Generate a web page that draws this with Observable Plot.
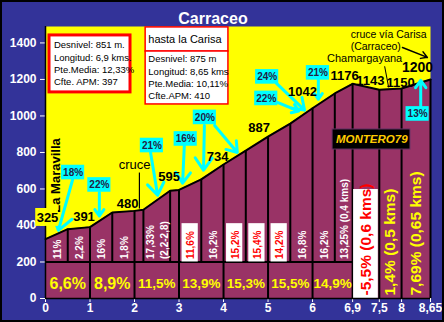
<!DOCTYPE html>
<html><head><meta charset="utf-8">
<script src="https://cdn.jsdelivr.net/npm/d3@7"></script>
<script src="https://cdn.jsdelivr.net/npm/@observablehq/plot@0.6"></script>
<style>body{margin:0;background:#333399;overflow:hidden}</style>
</head><body><div id="chart"></div>
<script>
// ---- data ----
const kmTicks = [0, 1, 2, 3, 4, 5, 6, 6.9, 7.5, 8, 8.65];
const kmTickLabels = ["0", "1", "2", "3", "4", "5", "6", "6,9", "7,5", "8", "8,65"];
const elevTicks = [0, 200, 400, 600, 800, 1000, 1200, 1400];

const profileKm   = [0, 0.5, 1, 1.5, 2, 2.2, 2.8, 3, 3.5, 4, 4.5, 5, 5.5, 6, 6.5, 6.9, 7.5, 8, 8.65];
const profileElev = [325, 380, 391, 471, 480, 486, 590, 595, 653, 734, 810, 887, 958, 1042, 1123, 1176, 1143, 1150, 1200];
const kmBoundaries = [0, 1, 2, 3, 4, 5, 6, 6.9, 7.5, 8, 8.65];

const subStart = [0, 0.5, 1, 1.5, 2.2, 3, 3.5, 4, 4.5, 5, 5.5, 6, 6.5];
const subEnd   = [0.5, 1, 1.5, 2, 2.8, 3.5, 4, 4.5, 5, 5.5, 6, 6.5, 6.9];
const subLabel = ["11%", "2,2%", "16%", "1,8%", "17,33%\n(2,2-2,8)", "11,6%", "16,2%", "15,2%", "15,4%", "14,2%", "16,8%", "16,2%", "13,25% (0,4 kms)"];
const subRed   = [false, false, false, false, false, true, false, true, true, true, false, false, false];

const avgStart = [0, 1, 2, 3, 4, 5, 6];
const avgEnd   = [1, 2, 3, 4, 5, 6, 6.9];
const avgLabel = ["6,6%", "8,9%", "11,5%", "13,9%", "15,3%", "15,5%", "14,9%"];

const longStart = [6.9, 7.5, 8];
const longEnd   = [7.5, 8, 8.65];
const longLabel = ["-5,5% (0,6 kms)", "1,4% (0,5 kms)", "7,69% (0,65 kms)"];
const longRed   = [true, false, false];

// elevation labels at km points (offsets in px)
const altKm = [0, 1, 2, 3, 4, 5, 6, 6.9, 7.5, 8, 8.65];
const altOffsets = [[2,-21],[-6,-10],[-7,-7],[-10,-13],[-6,-8],[-9,-9],[-10,-16],[-8,-8],[-9,-9],[-1,-6],[-13,-12]];

// callouts: label, box centre (km, m), arrows [x1,y1,x2,y2] in km/m
const callouts = [
  {label: "18%", cx: 0.62, cy: 690, arrows: [[0.61, 652, 0.29, 373]]},
  {label: "22%", cx: 1.21, cy: 622, arrows: [[1.21, 581, 1.21, 452]]},
  {label: "21%", cx: 2.39, cy: 838, arrows: [[2.36, 800, 2.52, 566]]},
  {label: "16%", cx: 3.15, cy: 874, arrows: [[3.12, 844, 3.08, 632]]},
  {label: "20%", cx: 3.58, cy: 992, arrows: [[3.57, 948, 3.55, 703], [3.80, 948, 4.31, 800]]},
  {label: "24%", cx: 4.98, cy: 1214, arrows: [[5.19, 1178, 5.82, 1032]]},
  {label: "22%", cx: 4.96, cy: 1096, arrows: [[5.21, 1074, 5.69, 1027]]},
  {label: "21%", cx: 6.12, cy: 1236, arrows: [[6.13, 1205, 6.13, 1092]]},
  {label: "13%", cx: 8.36, cy: 1011, arrows: [[8.43, 1047, 8.43, 1195]]}
];

// ---- derived tables ----
const profile = profileKm.map((km, i) => ({km, elev: profileElev[i]}));
const boundaries = profile.filter(d => d.km > 0).map(d => ({km: d.km, y1: kmBoundaries.includes(d.km) ? 0 : 200, y2: d.elev}));
const subs = subStart.map((s, i) => ({x1: s, x2: subEnd[i], mid: (s + subEnd[i]) / 2, label: subLabel[i], red: subRed[i]}));
const avgs = avgStart.map((s, i) => ({mid: (s + avgEnd[i]) / 2, label: avgLabel[i]}));
const longs = longStart.map((s, i) => ({x1: s, x2: longEnd[i], mid: (s + longEnd[i]) / 2, label: longLabel[i], red: longRed[i]}));
const alts = altKm.map((km, i) => ({km, elev: profileElev[profileKm.indexOf(km)], dx: altOffsets[i][0], dy: altOffsets[i][1]}));
const calloutBoxes = callouts.map(c => ({x1: c.cx - 0.26, x2: c.cx + 0.26, y1: c.cy - 40, y2: c.cy + 40, cx: c.cx, cy: c.cy, label: c.label}));
const calloutArrows = callouts.flatMap(c => c.arrows.map(a => ({x1: a[0], y1: a[1], x2: a[2], y2: a[3]})));

const PURPLE = "#993366", YELLOW = "#ffff00", BLUE = "#333399", CYAN = "#00ffff";
const FONT = "'Liberation Sans', Arial, sans-serif";

const marks = [
  Plot.frame({fill: YELLOW}),
  Plot.areaY(profile, {x: "km", y: "elev", fill: PURPLE}),
  Plot.ruleY([200], {x1: 0, x2: 6.9, stroke: "black", strokeWidth: 2}),
  Plot.ruleX(boundaries, {x: "km", y1: "y1", y2: "y2", stroke: "black", strokeWidth: 2}),
  // white backgrounds
  Plot.rect(subs.filter(d => d.red), {x1: "x1", x2: "x2", y1: 200, y2: 410, insetLeft: 3, insetRight: 3, fill: "white"}),
  Plot.rect(longs.filter(d => d.red), {x1: "x1", x2: "x2", y1: 0, y2: 597, insetLeft: 1, insetRight: 1, fill: "white"}),
  // sub-segment labels
  Plot.text(subs, {x: "mid", y: 200, dy: -3, text: "label", rotate: -90, textAnchor: "start", lineAnchor: "middle", lineHeight: 1.35,
    fill: d => d.red ? "#ff0000" : "white", fontSize: 10, fontWeight: "bold"}),
  Plot.text(longs, {x: "mid", y: 0, dy: -3, text: "label", rotate: -90, textAnchor: "start", lineAnchor: "middle",
    fill: d => d.red ? "#ff0000" : YELLOW, fontSize: 15.5, fontWeight: "bold"}),
  Plot.text(avgs.filter(d => d.label.length <= 4), {x: "mid", y: 82, text: "label", fill: YELLOW, fontSize: 16, fontWeight: "bold"}),
  Plot.text(avgs.filter(d => d.label.length > 4), {x: "mid", y: 82, text: "label", fill: YELLOW, fontSize: 13.5, fontWeight: "bold"}),
  Plot.line(profile, {x: "km", y: "elev", stroke: "black", strokeWidth: 2}),
  Plot.ruleX([0], {stroke: "black", strokeWidth: 1.5}),
  Plot.ruleY([0], {stroke: "black", strokeWidth: 1.5}),
  // info boxes
  Plot.rect([{x1: 0.09, x2: 1.91, y1: 1129, y2: 1441}], {x1: "x1", x2: "x2", y1: "y1", y2: "y2", fill: "white", stroke: "#ff0000", strokeWidth: 3}),
  Plot.text(["Desnivel: 851 m.\nLongitud: 6,9 kms.\nPte.Media: 12,33%\nCfte. APM: 397"], {x: 0.19, y: 1419, text: d => d, textAnchor: "start", lineAnchor: "top", lineHeight: 1.3, fontSize: 9.5, fontWeight: "normal", fill: "black"}),
  Plot.rect([{x1: 2.25, x2: 4.11, y1: 1353, y2: 1485}, {x1: 2.25, x2: 4.11, y1: 1063, y2: 1353}], {x1: "x1", x2: "x2", y1: "y1", y2: "y2", fill: "white", stroke: "#ff0000", strokeWidth: 1.5}),
  Plot.text(["hasta la Carisa"], {x: 2.31, y: 1419, text: d => d, textAnchor: "start", fontSize: 11, fontWeight: "normal", fill: "black"}),
  Plot.text(["Desnivel: 875 m\nLongitud: 8,65 kms\nPte.Media: 10,11%\nCfte.APM: 410"], {x: 2.31, y: 1342, text: d => d, textAnchor: "start", lineAnchor: "top", lineHeight: 1.3, fontSize: 9.5, fontWeight: "normal", fill: "black"}),
  // signature
  Plot.rect([{x1: 6.45, x2: 8.2, y1: 816, y2: 926}], {x1: "x1", x2: "x2", y1: "y1", y2: "y2", fill: "black", stroke: "#663366", strokeWidth: 1}),
  Plot.text(["MONTERO79"], {x: 7.33, y: 871, text: d => d, fill: "#ffcc00", fontSize: 11.5, fontWeight: "bold", fontStyle: "italic"}),
  // place annotations
  Plot.text(["La Maravilla"], {x: 0.23, y: 674, text: d => d, rotate: -90, fill: "black", fontSize: 13, fontWeight: "bold"}),
  Plot.text(["cruce"], {x: 2.0, y: 734, text: d => d, fill: "black", fontSize: 13, fontWeight: "normal"}),
  Plot.link([{x1: 2.11, y1: 690, x2: 2.11, y2: 493}], {x1: "x1", y1: "y1", x2: "x2", y2: "y2", stroke: "black", strokeWidth: 1.2}),
  Plot.text(["Chamargayana"], {x: 7.17, y: 1315, text: d => d, fill: "black", fontSize: 11, fontWeight: "normal"}),
  Plot.link([{x1: 7.62, y1: 1272, x2: 7.71, y2: 1156}], {x1: "x1", y1: "y1", x2: "x2", y2: "y2", stroke: "black", strokeWidth: 1}),
  Plot.text(["cruce vía Carisa"], {x: 7.71, y: 1447, text: d => d, fill: "black", fontSize: 10.5, fontWeight: "normal"}),
  Plot.text(["(Carraceo)"], {x: 7.42, y: 1381, text: d => d, fill: "black", fontSize: 10.5, fontWeight: "normal"}),
  Plot.arrow([{x1: 8.02, y1: 1375, x2: 8.58, y2: 1321}], {x1: "x1", y1: "y1", x2: "x2", y2: "y2", stroke: "black", strokeWidth: 1.5, headLength: 7}),
  // callouts
  Plot.arrow(calloutArrows, {x1: "x1", y1: "y1", x2: "x2", y2: "y2", stroke: CYAN, strokeWidth: 3, headLength: 9, headAngle: 70}),
  Plot.rect(calloutBoxes, {x1: "x1", x2: "x2", y1: "y1", y2: "y2", fill: CYAN}),
  Plot.text(calloutBoxes, {x: "cx", y: "cy", text: "label", fill: "#222244", fontSize: 10, fontWeight: "bold"}),
  // elevation label background for the start point
  Plot.rect([{x1: -0.22, x2: 0.29, y1: 395, y2: 493}], {x1: "x1", x2: "x2", y1: "y1", y2: "y2", fill: YELLOW}),
  // elevation labels (individual offsets)
  ...alts.map(a => Plot.text([a], {x: "km", y: "elev", dx: a.dx, dy: a.dy, text: d => String(d.elev), fill: "black", fontSize: a.km === 8.65 ? 14 : 13, fontWeight: "bold"})),
  // title
  Plot.text(["Carraceo"], {frameAnchor: "top", lineAnchor: "middle", dx: -25, dy: -8, text: d => d, fill: "white", fontSize: 16, fontWeight: "bold"})
];

const chart = Plot.plot({
  width: 444, height: 322,
  marginLeft: 45, marginRight: 14, marginTop: 26, marginBottom: 24,
  style: {background: BLUE, color: "white", fontFamily: FONT, fontSize: "12px", fontWeight: "bold", overflow: "visible"},
  x: {domain: [0, 8.65], ticks: kmTicks, tickFormat: d => kmTickLabels[kmTicks.indexOf(d)], tickSize: 4, tickPadding: 1, label: null},
  y: {domain: [0, 1490], ticks: elevTicks, tickFormat: d => String(d), tickSize: 5, tickPadding: 4, label: null},
  marks
});
d3.select(chart).append("rect").attr("x", 1).attr("y", 1).attr("width", 442).attr("height", 320)
  .attr("fill", "none").attr("stroke", "black").attr("stroke-width", 2);
document.getElementById("chart").appendChild(chart);
</script>
</body></html>
